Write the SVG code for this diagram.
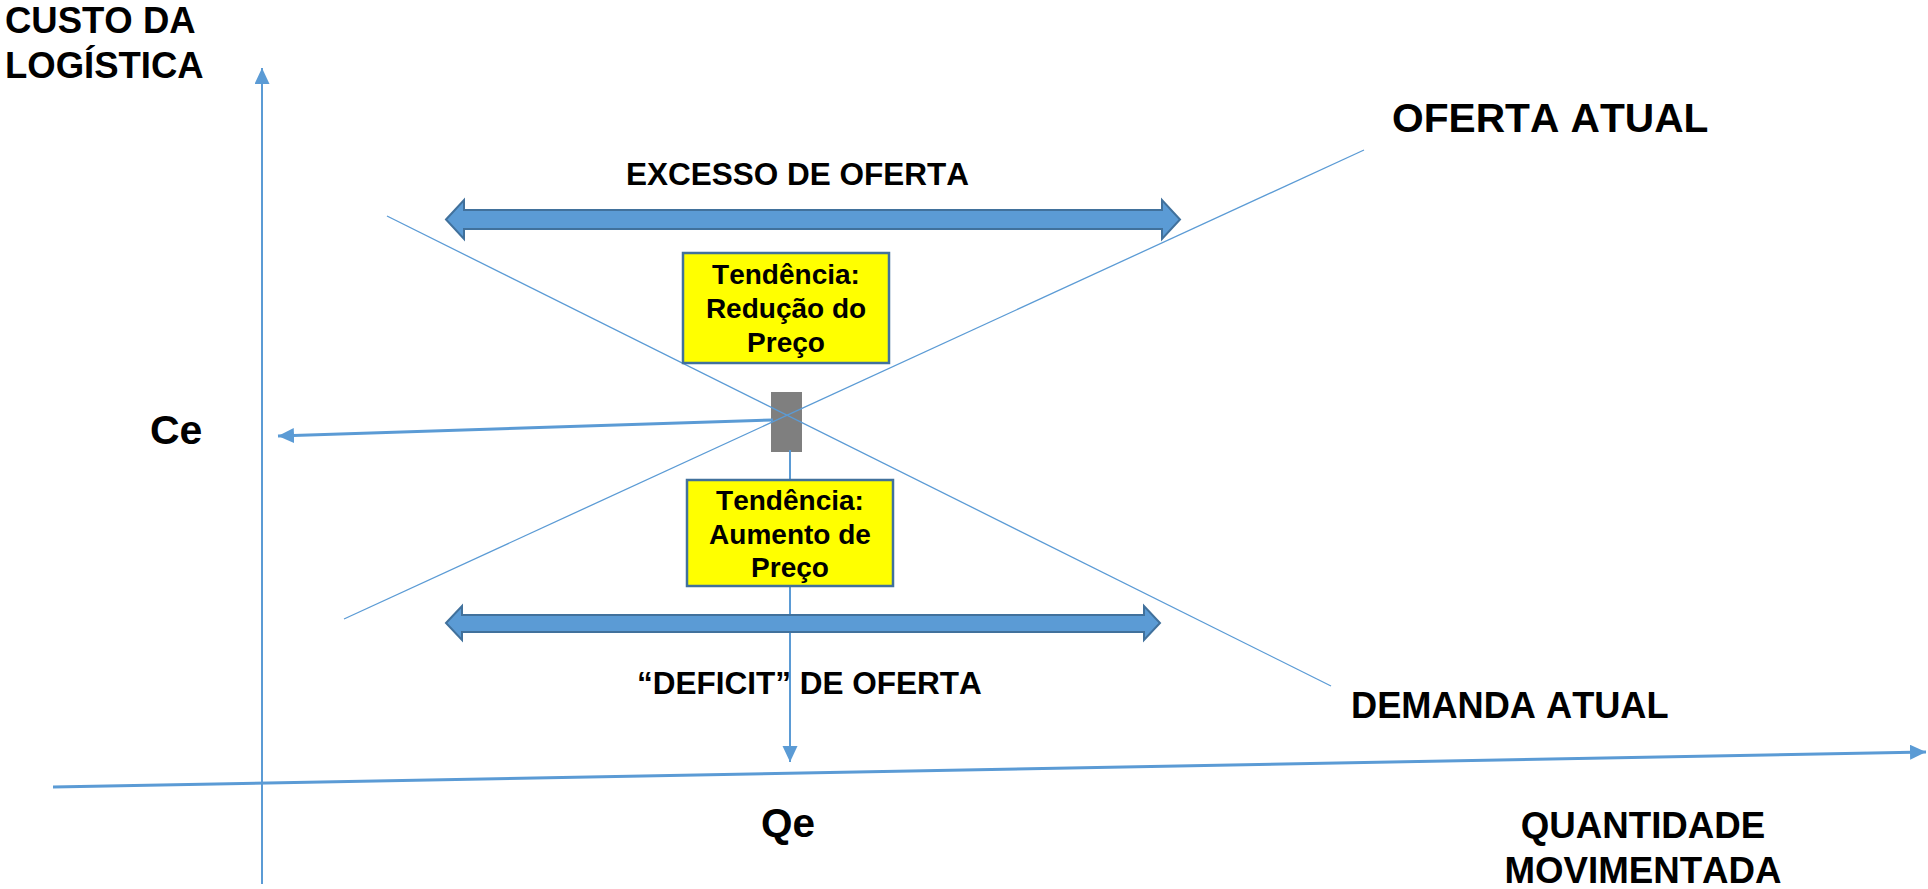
<svg xmlns="http://www.w3.org/2000/svg" width="1928" height="889" viewBox="0 0 1928 889">
<style>
.t{font-family:"Liberation Sans",Arial,sans-serif;font-weight:bold;fill:#000;font-kerning:none}
.ax{stroke:#5B9BD5;fill:none}
.thin{stroke:#5B9BD5;stroke-width:1.3;fill:none}
.box{fill:#FFFF00;stroke:#41719C;stroke-width:2.5}
.dbl{fill:#5B9BD5;stroke:#41719C;stroke-width:2}
</style>
<defs>
<marker id="ah" markerUnits="userSpaceOnUse" markerWidth="17" markerHeight="16" refX="16" refY="7.5" orient="auto">
<path d="M0,0 L16,7.5 L0,15 z" fill="#5B9BD5"/>
</marker>
</defs>
<rect width="1928" height="889" fill="#fff"/>
<g id="equilibrium">
<rect x="771" y="392" width="31" height="60" fill="#7F7F7F"/>
</g>
<g id="connectors">
<line class="ax" x1="262" y1="884" x2="262" y2="68" stroke-width="2" marker-end="url(#ah)"/>
<line class="ax" x1="53" y1="787" x2="1926" y2="752" stroke-width="3" marker-end="url(#ah)"/>
<line class="ax" x1="773" y1="420" x2="278" y2="436" stroke-width="3" marker-end="url(#ah)"/>
<line class="ax" x1="790" y1="450" x2="790" y2="762" stroke-width="2" marker-end="url(#ah)"/>
<line id="demanda" class="thin" x1="387" y1="216" x2="1331" y2="686"/>
<line id="oferta" class="thin" x1="344" y1="619" x2="1364" y2="150"/>
</g>
<g id="excesso-arrow">
<polygon class="dbl" points="446,219.5 464,200 464,210 1162,210 1162,200 1180,219.5 1162,239 1162,229 464,229 464,239"/>
</g>
<g id="deficit-arrow">
<polygon class="dbl" points="446,623 462,606 462,615 1144,615 1144,606 1160,623 1144,640 1144,632 462,632 462,640"/>
</g>
<g id="box-reducao">
<rect class="box" x="683" y="253" width="206" height="110"/>
<text class="t" font-size="28" text-anchor="middle"><tspan x="786" y="284">Tendência:</tspan><tspan x="786" y="318">Redução do</tspan><tspan x="786" y="352">Preço</tspan></text>
</g>
<g id="box-aumento">
<rect class="box" x="687" y="480" width="206" height="106"/>
<text class="t" font-size="28" text-anchor="middle"><tspan x="790" y="510">Tendência:</tspan><tspan x="790" y="544">Aumento de</tspan><tspan x="790" y="577">Preço</tspan></text>
</g>
<g id="labels">
<text class="t" font-size="36.5"><tspan x="5" y="33">CUSTO DA</tspan><tspan x="5" y="78">LOGÍSTICA</tspan></text>
<text class="t" font-size="31.5" x="626" y="185">EXCESSO DE OFERTA</text>
<text class="t" font-size="40.7" x="1392" y="132">OFERTA ATUAL</text>
<text class="t" font-size="41" x="150" y="444">Ce</text>
<text class="t" font-size="31.5" x="637" y="694">“DEFICIT” DE OFERTA</text>
<text class="t" font-size="36.2" x="1351" y="718">DEMANDA ATUAL</text>
<text class="t" font-size="40.5" x="761" y="837">Qe</text>
<text class="t" font-size="36.7" text-anchor="middle"><tspan x="1643" y="838">QUANTIDADE</tspan><tspan x="1643" y="883">MOVIMENTADA</tspan></text>
</g>
</svg>
